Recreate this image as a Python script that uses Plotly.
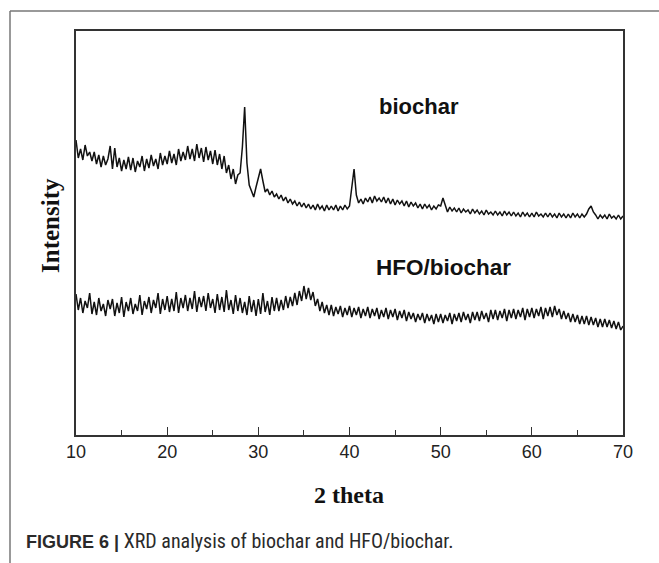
import numpy as np
import plotly.graph_objects as go

# 2-theta scan grid (degrees), 0.25 deg step
two_theta = np.round(np.arange(10.0, 70.0001, 0.25), 2)

# Intensity (a.u.)
biochar = [
    295, 277, 286, 275, 290, 279, 283, 274,
    283, 271, 280, 268, 279, 270, 276, 289,
    266, 287, 268, 277, 264, 275, 266, 278,
    265, 277, 263, 274, 268, 279, 264, 276,
    267, 280, 269, 276, 266, 282, 270, 279,
    271, 284, 272, 281, 270, 286, 274, 283,
    275, 289, 276, 286, 274, 291, 277, 287,
    273, 288, 275, 284, 271, 285, 270, 281,
    266, 279, 262, 270, 256, 266, 251, 260,
    262, 288, 328, 272, 250, 244, 238, 248,
    256, 266, 254, 243, 246, 240, 244, 238,
    241, 236, 240, 234, 238, 232, 236, 231,
    234, 229, 233, 228, 232, 227, 231, 226,
    230, 225, 231, 226, 229, 224, 230, 225,
    229, 225, 230, 224, 229, 225, 230, 226,
    229, 250, 266, 240, 232, 236, 231, 237,
    233, 238, 232, 239, 234, 237, 233, 238,
    232, 237, 231, 236, 230, 235, 231, 234,
    229, 234, 228, 233, 229, 232, 227, 231,
    226, 231, 227, 230, 225, 229, 226, 230,
    229, 237, 229, 223, 228, 224, 227, 223,
    227, 222, 226, 223, 225, 221, 226, 222,
    225, 221, 224, 220, 225, 221, 223, 220,
    224, 220, 223, 219, 224, 220, 223, 219,
    223, 219, 222, 218, 223, 219, 222, 218,
    222, 218, 223, 219, 221, 218, 222, 218,
    222, 218, 221, 217, 222, 218, 221, 217,
    221, 217, 222, 218, 221, 217, 221, 218,
    221, 226, 229, 223, 220, 216, 220, 217,
    220, 216, 221, 217, 219, 216, 220, 216,
    219,
]

hfo_biochar = [
    141, 125, 137, 122, 134, 127, 142, 121,
    133, 120, 137, 124, 131, 119, 135, 126,
    136, 119, 132, 122, 138, 118, 133, 124,
    137, 121, 131, 124, 140, 120, 134, 126,
    138, 122, 135, 127, 142, 121, 136, 125,
    139, 123, 136, 124, 143, 122, 137, 127,
    140, 124, 137, 126, 144, 123, 138, 128,
    139, 124, 142, 127, 136, 122, 141, 125,
    138, 123, 145, 125, 135, 121, 140, 124,
    137, 122, 133, 120, 139, 123, 135, 119,
    136, 121, 142, 123, 134, 120, 138, 124,
    137, 124, 135, 125, 139, 127, 138, 129,
    142, 130, 144, 134, 149, 136, 147, 135,
    143, 129, 136, 124, 133, 122, 130, 120,
    130, 119, 128, 121, 129, 118, 127, 120,
    129, 118, 127, 120, 128, 117, 126, 119,
    128, 117, 126, 119, 127, 116, 125, 118,
    127, 116, 125, 118, 126, 115, 124, 117,
    125, 114, 123, 116, 122, 113, 121, 115,
    122, 112, 121, 114, 120, 111, 121, 113,
    121, 112, 120, 114, 122, 111, 121, 114,
    122, 113, 123, 115, 121, 112, 123, 115,
    123, 114, 124, 116, 122, 113, 125, 116,
    125, 115, 124, 117, 126, 114, 125, 117,
    126, 116, 125, 118, 127, 115, 126, 118,
    127, 117, 126, 119, 128, 116, 127, 119,
    128, 118, 129, 120, 126, 116, 124, 116,
    122, 113, 121, 113, 120, 111, 119, 111,
    119, 110, 118, 110, 117, 108, 116, 108,
    116, 108, 115, 107, 114, 106, 113, 105,
    109,
]

x_ticks = [10, 20, 30, 40, 50, 60, 70]
labels = ["biochar", "HFO/biochar"]

W, H = 659, 563
L, R, T, B = 76, 623, 31, 435
pw, ph = R - L, B - T


def px(x):
    return (x - L) / pw


def py(y):
    return (B - y) / ph


fig = go.Figure()
for ys in (biochar, hfo_biochar):
    fig.add_trace(go.Scatter(
        x=two_theta, y=ys, mode="lines",
        line=dict(color="#111111", width=1.5),
        showlegend=False, hoverinfo="skip",
    ))

axis_common = dict(
    showline=True, linecolor="#333333", linewidth=1.5, mirror=True,
    showgrid=False, zeroline=False,
)

fig.update_xaxes(
    range=[10, 70], tickvals=x_ticks, ticktext=[str(v) for v in x_ticks],
    ticks="inside", ticklen=8, tickwidth=1.2, tickcolor="#333333",
    minor=dict(dtick=5, ticks="inside", ticklen=5, tickwidth=1.2, tickcolor="#333333"),
    tickfont=dict(family="Liberation Sans, Arial, sans-serif", size=18, color="#222222"),
    **axis_common,
)
fig.update_yaxes(
    range=[0, 404], showticklabels=False, ticks="",
    **axis_common,
)

serif = "Liberation Serif, Times New Roman, serif"
sans = "Liberation Sans, Arial, sans-serif"
narrow = "Liberation Sans Narrow, Arial Narrow, Roboto Condensed, Liberation Sans, sans-serif"

caption = ('<span style="font-family:Liberation Sans, Arial, sans-serif;font-size:18px;">'
           '<b>FIGURE 6 |</b></span> XRD analysis of biochar and HFO/biochar.')

annotations = [
    dict(x=10 + (377 - L) / pw * 60, y=B - 106, xref="x", yref="y", text="<b>" + labels[0] + "</b>",
         xanchor="left", yanchor="middle", showarrow=False,
         font=dict(family=sans, size=22, color="#111111")),
    dict(x=10 + (374 - L) / pw * 60, y=B - 267, xref="x", yref="y",
         text="<b>" + labels[1] + "</b>", xanchor="left", yanchor="middle",
         showarrow=False, font=dict(family=sans, size=22.5, color="#111111")),
    dict(x=px(349), y=py(495), xref="paper", yref="paper", text="<b>2 theta</b>",
         xanchor="center", yanchor="middle", showarrow=False,
         font=dict(family=serif, size=24, color="#111111")),
    dict(x=px(50), y=py(226), xref="paper", yref="paper", text="<b>Intensity</b>",
         textangle=-90, xanchor="center", yanchor="middle", showarrow=False,
         font=dict(family=serif, size=25, color="#111111")),
    dict(x=px(24), y=py(541), xref="paper", yref="paper",
         text=caption, xanchor="left", yanchor="middle", showarrow=False,
         font=dict(family=narrow, size=20, color="#2a2a2a")),
]

shapes = [
    dict(type="line", xref="paper", yref="paper",
         x0=px(10), x1=px(10), y0=py(11), y1=py(580),
         line=dict(color="#777777", width=1.5)),
    dict(type="line", xref="paper", yref="paper",
         x0=px(10), x1=px(680), y0=py(11), y1=py(11),
         line=dict(color="#777777", width=1.5)),
]

fig.update_layout(
    width=W, height=H,
    margin=dict(l=L, r=W - R, t=T, b=H - B),
    paper_bgcolor="white", plot_bgcolor="white",
    annotations=annotations, shapes=shapes,
)

fig.write_html("out.html")
